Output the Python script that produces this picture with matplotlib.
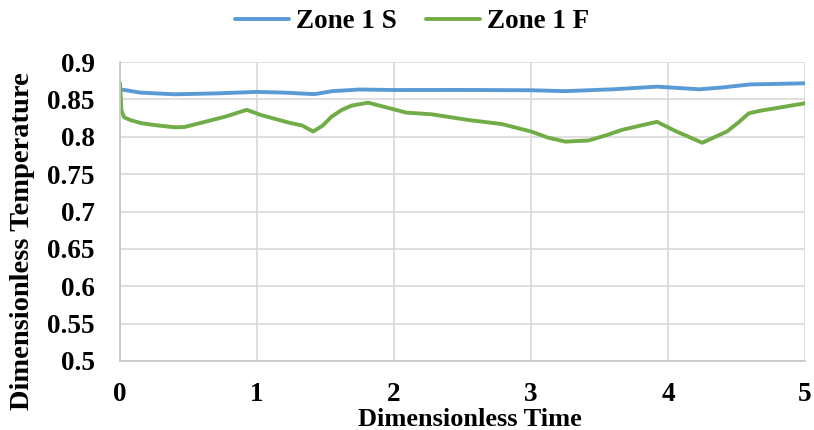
import matplotlib
matplotlib.use("Agg")
import matplotlib.pyplot as plt

# Data
s_x = [0, 0.15, 0.4, 0.7, 1.0, 1.2, 1.42, 1.55, 1.75, 2.0, 2.5, 3.0, 3.25, 3.6, 3.92, 4.23, 4.4, 4.6, 5.0]
s_y = [0.8635, 0.859, 0.8568, 0.858, 0.860, 0.859, 0.857, 0.861, 0.8632, 0.8625, 0.8626, 0.8622, 0.861,
       0.8635, 0.867, 0.8635, 0.866, 0.870, 0.8715]

f_x = [0, 0.01, 0.03, 0.08, 0.16, 0.28, 0.4, 0.47, 0.6, 0.77, 0.925, 1.03, 1.23, 1.33, 1.41, 1.48, 1.545,
       1.62, 1.69, 1.81, 1.95, 2.09, 2.275, 2.54, 2.786, 3.005, 3.12, 3.25, 3.42, 3.55, 3.66, 3.8, 3.92,
       4.05, 4.25, 4.43, 4.52, 4.59, 4.68, 4.78, 5.0]
f_y = [0.872, 0.835, 0.826, 0.822, 0.818, 0.815, 0.8127, 0.813, 0.819, 0.827, 0.836, 0.829, 0.819, 0.815,
       0.807, 0.815, 0.827, 0.836, 0.8416, 0.8456, 0.839, 0.8323, 0.830, 0.8225, 0.817, 0.8068, 0.799,
       0.7935, 0.795, 0.802, 0.809, 0.815, 0.820, 0.808, 0.792, 0.807, 0.820, 0.8314, 0.835, 0.838, 0.8448]

x_ticks = [0, 1, 2, 3, 4, 5]
y_ticks = [0.5, 0.55, 0.6, 0.65, 0.7, 0.75, 0.8, 0.85, 0.9]
y_tick_labels = ["0.5", "0.55", "0.6", "0.65", "0.7", "0.75", "0.8", "0.85", "0.9"]
series_names = ["Zone 1 S", "Zone 1 F"]

plt.rcParams['font.family'] = ['Liberation Serif', 'DejaVu Serif']
plt.rcParams['font.weight'] = 'bold'

fig = plt.figure(figsize=(8.14, 4.30), dpi=100)
ax = fig.add_axes([120/814, 1-361/430, (805-120)/814, (361-62)/430])

ax.plot(s_x, s_y, color='#5B9BD5', lw=2.8, label=series_names[0],
        solid_capstyle='round', solid_joinstyle='round')
ax.plot(f_x, f_y, color='#70AD47', lw=2.8, label=series_names[1],
        solid_capstyle='round', solid_joinstyle='round')

ax.set_xlim(0, 5)
ax.set_ylim(0.5, 0.9)
ax.set_xticks(x_ticks)
ax.set_xticklabels([str(t) for t in x_ticks])
ax.set_yticks(y_ticks)
ax.set_yticklabels(y_tick_labels)
ax.tick_params(axis='both', length=0, labelsize=19.5)
ax.tick_params(axis='y', pad=18)
ax.tick_params(axis='x', pad=15)
for lab in ax.get_xticklabels() + ax.get_yticklabels():
    lab.set_fontweight('bold')

ax.grid(True, color='#D9D9D9', lw=1.2)
ax.set_axisbelow(True)
for side in ['top', 'right']:
    ax.spines[side].set_visible(False)
for side in ['left', 'bottom']:
    ax.spines[side].set_color('#C8C8C8')
    ax.spines[side].set_linewidth(1.3)

fig.text(470/814, 1-426/430, "Dimensionless Time", ha='center', va='baseline',
         fontsize=19, fontweight='bold')
fig.text(23/814, 1-241/430, "Dimensionless Temperature", ha='center', va='center',
         rotation=90, fontsize=20.5, fontweight='bold')

fig.legend(loc='center', bbox_to_anchor=(412/814, 1-22/430), ncol=2, frameon=False,
           prop={'size': 19.5, 'weight': 'bold'}, handlelength=2.0, handletextpad=0.25,
           columnspacing=1.1)

fig.savefig("out.png", dpi=100)
